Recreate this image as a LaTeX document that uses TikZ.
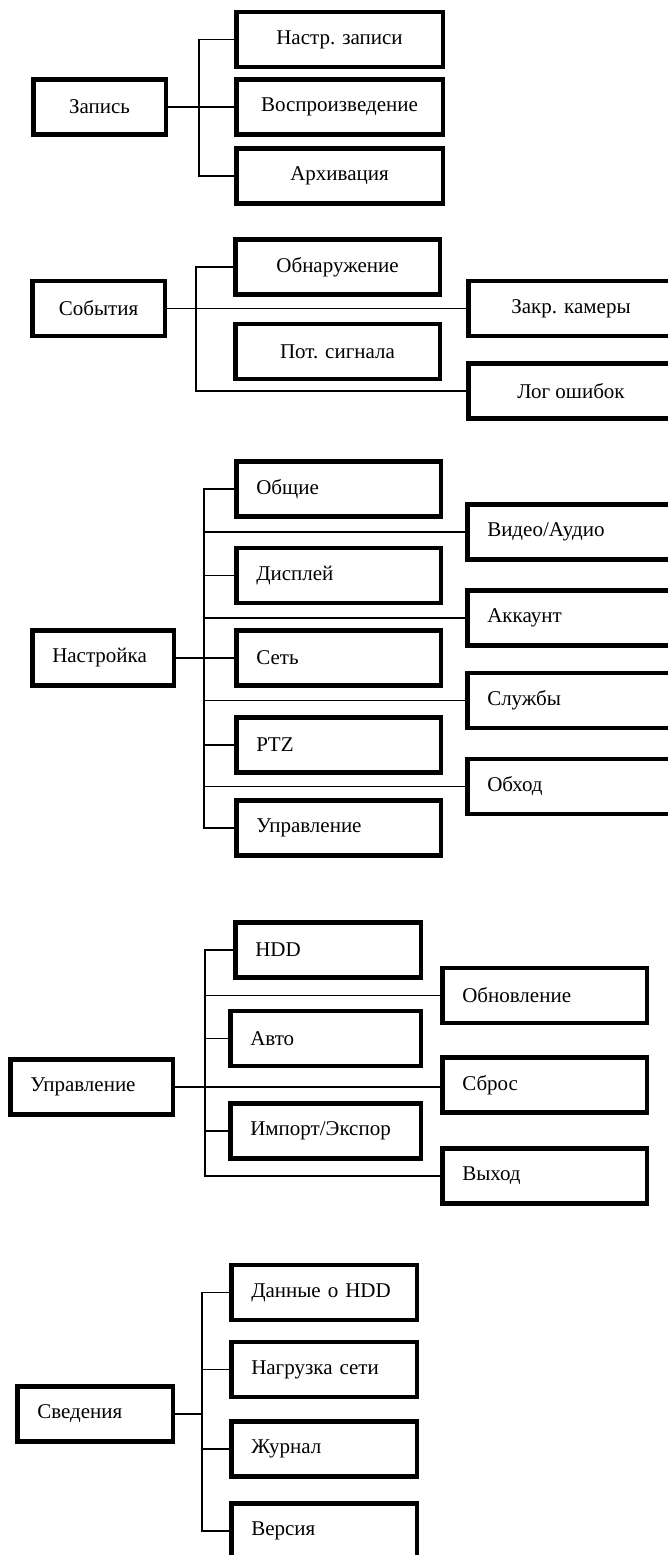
\documentclass[tikz,border=0pt]{standalone}
\usepackage{fontspec}
\setmainfont{Liberation Serif}
\usepackage{tikz}
\usetikzlibrary{calc}
\tikzset{>=latex}
\tikzset{box/.style={draw, line width=4.5pt, inner sep=0pt, minimum height=55pt, font=\fontsize{21}{25}\selectfont},
  cbox/.style={box, minimum width=#1},
  lbox/.style={box, inner xsep=20pt, text width=#1, align=left},
  conn/.style={line width=1.6pt}}

\begin{document}
\begin{tikzpicture}[x=1pt, y=-1pt]
\useasboundingbox (0,0) rectangle (668,1555);
\node[cbox=132.5] (zap) at (99.5,107) {Запись};
\node[cbox=206.5] (nz) at (339.5,39.5) {Настр. записи};
\node[cbox=206.5] (vosp) at (339.5,107) {Воспроизведение};
\node[cbox=206.5] (arh) at (339.5,176) {Архивация};
\coordinate (t1) at (199,0);
\draw[conn] (zap.east) -- (vosp.west);
\draw[conn] (nz.west) -- (nz.west -| t1) -- (arh.west -| t1) -- (arh.west);

\node[cbox=132.5] (sob) at (98.5,308.5) {События};
\node[cbox=204.5] (obn) at (337.5,267) {Обнаружение};
\node[cbox=204.5] (pot) at (337.5,351.5) {Пот. сигнала};
\node[cbox=205.5] (zakr) at (571,308.5) {Закр. камеры};
\node[cbox=205.5] (log) at (571,391) {Лог ошибок};
\coordinate (t2) at (196,0);
\draw[conn] (sob.east) -- (zakr.west);
\draw[conn] (obn.west) -- (obn.west -| t2) -- (log.west -| t2) -- (log.west);

\node[lbox=101.5] (nastr) at (103,658) {Настройка};
\node[lbox=164.5] (obsh) at (338.5,489) {Общие};
\node[lbox=164.5] (disp) at (338.5,575.5) {Дисплей};
\node[lbox=164.5] (set) at (338.5,658) {Сеть};
\node[lbox=164.5] (ptz) at (338.5,745) {PTZ};
\node[lbox=164.5] (upr3) at (338.5,828) {Управление};
\node[lbox=166.5] (video) at (570.5,532) {Видео/Аудио};
\node[lbox=166.5] (akk) at (570.5,618) {Аккаунт};
\node[lbox=166.5] (sluzh) at (570.5,700.5) {Службы};
\node[lbox=166.5] (obhod) at (570.5,786.5) {Обход};
\coordinate (t3) at (204,0);
\draw[conn] (nastr.east) -- (set.west);
\draw[conn] (obsh.west) -- (obsh.west -| t3) -- (upr3.west -| t3) -- (upr3.west);
\foreach \n in {video,disp,akk,sluzh,ptz,obhod}
  \draw[conn] (\n.west -| t3) -- (\n.west);

\node[lbox=122.5] (upr) at (91.5,1087) {Управление};
\node[lbox=145.5] (hdd) at (328,950) {HDD};
\node[lbox=150.5] (avto) at (325.5,1038.5) {Авто};
\node[lbox=150.5] (imp) at (325.5,1131) {Импорт/Экспор};
\node[lbox=164.5] (obnov) at (544.5,995.5) {Обновление};
\node[lbox=164.5] (sbros) at (544.5,1085) {Сброс};
\node[lbox=164.5] (vyh) at (544.5,1176) {Выход};
\coordinate (t4) at (205,0);
\draw[conn] (upr.east) -- (upr.east -| sbros.west);
\draw[conn] (hdd.west) -- (hdd.west -| t4) -- (vyh.west -| t4) -- (vyh.west);
\foreach \n in {obnov,avto,imp}
  \draw[conn] (\n.west -| t4) -- (\n.west);

\node[lbox=115.5] (sved) at (95,1414) {Сведения};
\node[lbox=145.5] (dan) at (324,1292.5) {Данные о HDD};
\node[lbox=145.5] (nagr) at (324,1369.5) {Нагрузка сети};
\node[lbox=145.5] (zhur) at (324,1449) {Журнал};
\node[lbox=145.5] (vers) at (324,1531) {Версия};
\coordinate (t5) at (202,0);
\draw[conn] (sved.east) -- (sved.east -| t5);
\draw[conn] (dan.west) -- (dan.west -| t5) -- (vers.west -| t5) -- (vers.west);
\foreach \n in {nagr,zhur}
  \draw[conn] (\n.west -| t5) -- (\n.west);
\end{tikzpicture}
\end{document}
